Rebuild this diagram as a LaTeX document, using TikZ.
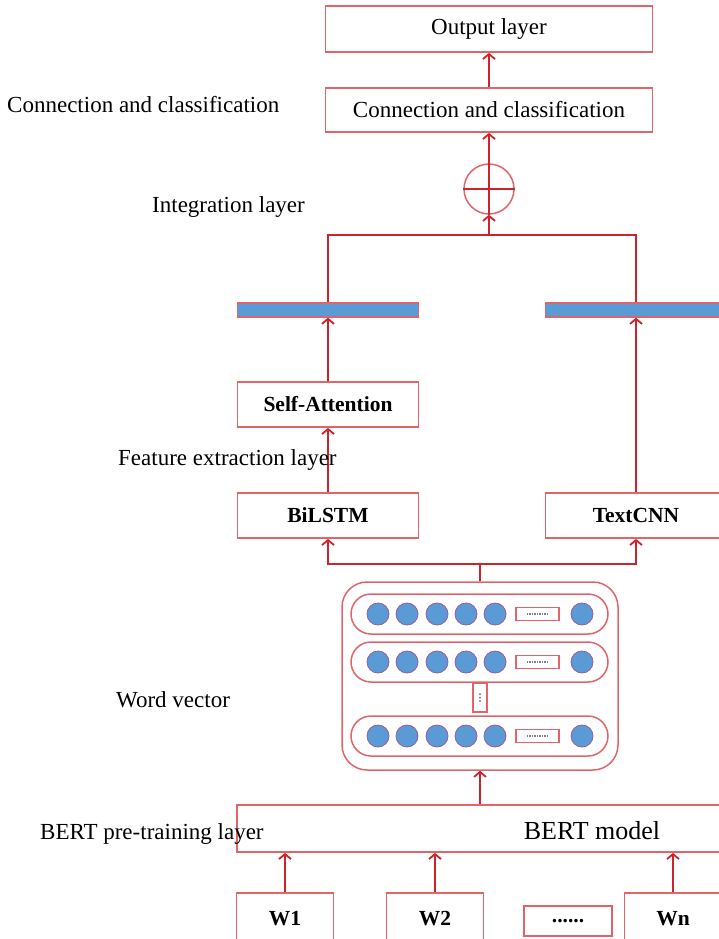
\documentclass[tikz,border=0pt]{standalone}
\usepackage{fontspec}
\setmainfont{Liberation Serif}
\usetikzlibrary{arrows.meta}
\definecolor{boxred}{RGB}{226,100,105}
\definecolor{linered}{RGB}{205,35,45}
\definecolor{cblue}{RGB}{91,155,213}
\definecolor{cedge}{RGB}{150,90,170}
\begin{document}
\begin{tikzpicture}[x=1pt,y=-1pt,
  box/.style={draw=boxred, line width=1.8pt, fill=white, inner sep=0pt, font=\fontsize{23}{27}\selectfont},
  bbox/.style={box, font=\fontsize{21.5}{25}\selectfont\bfseries},
  lbl/.style={anchor=west, inner sep=0pt, font=\fontsize{23}{27}\selectfont},
  bar/.style={draw=boxred, line width=1.4pt, fill=cblue, inner sep=0pt, minimum width=181pt, minimum height=14pt},
  row/.style={draw=boxred, line width=1.5pt, rounded corners=20pt, fill=white, inner sep=0pt, minimum width=257pt, minimum height=40pt},
  dot/.style={circle, draw=cedge, line width=0.8pt, fill=cblue, minimum size=22pt, inner sep=0pt},
  srect/.style={draw=boxred, line width=1.5pt, fill=white, minimum width=43pt, minimum height=13pt, inner sep=0pt},
  conn/.style={draw=linered, line width=2.2pt},
  arr/.style={conn, -{Straight Barb[length=5pt,width=12pt,line width=1.8pt]}}
]
\useasboundingbox (0,0) rectangle (719,939);

% top boxes
\node[box, minimum width=327pt, minimum height=46pt] (out) at (489,29) {Output layer};
\node[box, minimum width=327pt, minimum height=44pt] (cc) at (489,110) {Connection and classification};
\node[circle, draw=boxred, line width=1.5pt, minimum size=50pt, inner sep=0pt] (plus) at (489,189) {};
\draw[conn] (plus.west) -- (plus.east);
\draw[conn] (plus.north) -- (plus.south);
\draw[arr] (cc.north) -- (out.south);
\draw[arr] (plus.north) -- (cc.south);

% junction
\coordinate (jt) at (489,235);
\coordinate (jl) at (328,235);
\coordinate (jr) at (636,235);
\draw[arr] (jt) -- (plus.south);

% bars
\node[bar] (barl) at (328,310) {};
\node[bar] (barr) at (636,310) {};
\draw[conn] (barl.north -| jl) -- (jl) -- (jr) -- (barr.north -| jr);

% feature boxes
\node[bbox, minimum width=181pt, minimum height=45pt] (sa) at (328,404.5) {Self-Attention};
\node[bbox, minimum width=181pt, minimum height=45pt] (bil) at (328,515.5) {BiLSTM};
\node[bbox, minimum width=181pt, minimum height=45pt] (tcnn) at (636,515.5) {TextCNN};
\draw[arr] (sa.north) -- (barl.south);
\draw[arr] (bil.north) -- (sa.south);
\draw[arr] (tcnn.north) -- (barr.south);

% word vector box
\node[draw=boxred, line width=1.5pt, rounded corners=25pt, minimum width=276pt, minimum height=188pt, inner sep=0pt] (wv) at (480,676) {};
\coordinate (kb) at (480,564);
\draw[conn] (wv.north) -- (kb);
\draw[arr] (kb) -| (bil.south);
\draw[arr] (kb) -| (tcnn.south);

\foreach \r/\y in {1/614, 2/662, 3/736} {
  \node[row] (row\r) at (479.5,\y) {};
  \foreach \i/\x in {a/378, b/407, c/437, d/466, e/495, f/582} {
    \node[dot] (d\r\i) at (\x,\y) {};
  }
  \node[srect] (s\r) at (537.5,\y) {};
  \draw[gray, line width=1.2pt, dash pattern=on 1.5pt off 1pt] ([xshift=-11pt]s\r.center) -- ([xshift=11pt]s\r.center);
}
\node[draw=boxred, line width=1.5pt, minimum width=14pt, minimum height=29pt, inner sep=0pt, fill=white] (vd) at (480,697.5) {};
\foreach \dy in {-3.5,0,3.5} \fill[gray!80!black] ([yshift=\dy pt]vd.center) circle (1pt);

% BERT
\node[box, minimum width=493pt, minimum height=47pt] (bert) at (483.5,828.5) {};
\node[inner sep=0pt, font=\fontsize{26}{30}\selectfont] (bertt) at (592,831) {BERT model};
\draw[arr] (bert.north -| wv.south) -- (wv.south);

% words
\node[bbox, minimum width=97pt, minimum height=52pt] (w1) at (285,919) {W1};
\node[bbox, minimum width=97pt, minimum height=52pt] (w2) at (435,919) {W2};
\node[bbox, minimum width=88pt, minimum height=30pt] (wd) at (568,921) {......};
\node[bbox, minimum width=97pt, minimum height=52pt] (wn) at (673,919) {Wn};
\draw[arr] (w1.north) -- (w1.north |- bert.south);
\draw[arr] (w2.north) -- (w2.north |- bert.south);
\draw[arr] (wn.north) -- (wn.north |- bert.south);

% left labels
\node[lbl] (l1) at (7,105) {Connection and classification};
\node[lbl] (l2) at (152,207) {Integration layer};
\node[lbl] (l3) at (118,460) {Feature extraction layer};
\node[lbl] (l4) at (116,700) {Word vector};
\node[lbl] (l5) at (40,834) {BERT pre-training layer};
\end{tikzpicture}
\end{document}
